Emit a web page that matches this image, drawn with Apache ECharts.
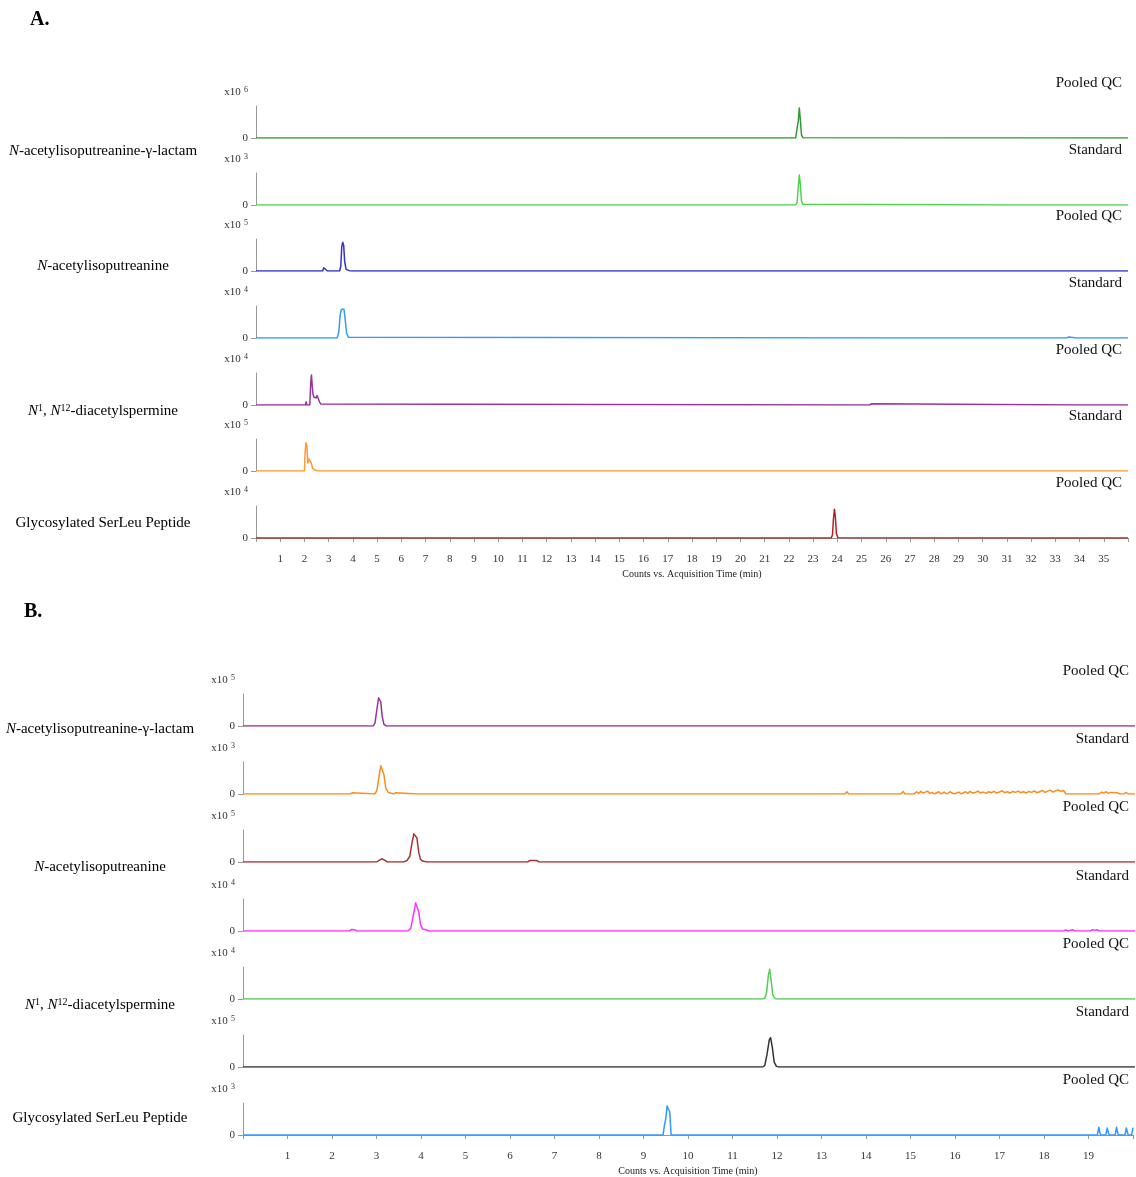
<!DOCTYPE html>
<html>
<head>
<meta charset="utf-8">
<script src="https://cdn.jsdelivr.net/npm/echarts@6/dist/echarts.min.js"></script>
<style>
  html, body { margin: 0; padding: 0; background: #fff; }
  #chart { width: 1136px; height: 1177px; }
</style>
</head>
<body>
<div id="chart"></div>
<script>
// Extracted ion chromatograms: [retention time (min), intensity in units of the trace's x10^n scale]

// Panel A traces
const aLactamQC = [[0,0],[22.28,0],[22.34,0.06],[22.39,0.55],[22.43,0.94],[22.47,0.6],[22.52,0.1],[22.58,0.01],[22.65,0],[36,0]];
const aLactamStd = [[0,0],[2.2,0],[2.24,0.03],[2.28,0],[2.64,0],[2.68,0.03],[2.72,0],[3.43,0],[3.47,0.03],[3.51,0],[4.67,0],[4.71,0.03],[4.75,0],[6.98,0],[7.02,0.03],[7.06,0],[8.38,0],[8.42,0.03],[8.46,0],[22.28,0],[22.34,0.08],[22.39,0.6],[22.43,0.94],[22.47,0.65],[22.52,0.12],[22.58,0.02],[22.65,0],[31.2,0],[31.24,0.05],[31.28,0],[33.86,0],[33.9,0.03],[33.94,0],[34.86,0],[34.9,0.03],[34.94,0],[36,0]];
const aIsoputQC = [[0,0],[2.75,0],[2.8,0.1],[2.83,0.12],[2.88,0.05],[2.95,0],[3.45,0],[3.5,0.15],[3.54,0.75],[3.58,0.9],[3.62,0.8],[3.66,0.3],[3.72,0.05],[3.85,0.01],[3.95,0],[36,0]];
const aIsoputStd = [[0,0],[1.95,0],[2.02,0.05],[2.1,0],[3.35,0],[3.42,0.2],[3.48,0.75],[3.53,0.9],[3.58,0.84],[3.63,0.9],[3.68,0.6],[3.74,0.15],[3.82,0.02],[3.9,0],[26.44,0],[26.48,0.04],[26.52,0],[28.86,0],[28.9,0.03],[28.94,0],[33.46,0],[33.5,0.04],[33.56,0.03],[33.6,0],[33.86,0],[33.9,0.04],[33.94,0],[34.0,0],[34.04,0.03],[34.08,0],[34.36,0],[34.4,0.03],[34.44,0],[36,0]];
const aSpermQC = [[0,0],[2.04,0],[2.07,0.1],[2.1,0],[2.22,0],[2.26,0.7],[2.29,0.94],[2.32,0.6],[2.35,0.35],[2.39,0.25],[2.43,0.3],[2.48,0.22],[2.52,0.3],[2.57,0.2],[2.62,0.1],[2.68,0.03],[2.75,0],[25.06,0],[25.1,0.04],[25.14,0],[25.33,0],[25.37,0.06],[25.42,0.04],[25.46,0],[34.03,0],[34.07,0.04],[34.11,0],[36,0]];
const aSpermStd = [[0,0],[2.0,0],[2.03,0.6],[2.06,0.88],[2.1,0.8],[2.14,0.25],[2.18,0.38],[2.23,0.43],[2.28,0.25],[2.34,0.08],[2.45,0.02],[2.6,0],[36,0]];
const aPeptideQC = [[0,0],[23.75,0],[23.8,0.1],[23.84,0.6],[23.88,0.9],[23.92,0.65],[23.96,0.15],[24.02,0.01],[24.08,0],[33.13,0],[33.17,0.04],[33.21,0],[36,0]];

// Panel B traces
const bLactamQC = [[0,0],[2.92,0],[2.96,0.1],[3.0,0.5],[3.04,0.88],[3.06,0.92],[3.09,0.75],[3.12,0.3],[3.16,0.05],[3.22,0],[20,0]];
const bLactamStd = [[0,0],[2.4,0],[2.46,0.04],[2.5,0],[2.95,0],[3.0,0.1],[3.05,0.55],[3.09,0.88],[3.12,0.92],[3.16,0.6],[3.2,0.2],[3.25,0.06],[3.3,0.03],[3.38,0],[3.43,0.04],[3.46,0],[3.9,0],[3.94,0.05],[3.97,0],[4.0,0.05],[4.03,0],[4.3,0],[4.34,0.04],[4.38,0],[4.6,0],[4.63,0.04],[4.66,0],[4.85,0],[4.88,0.04],[4.91,0],[5.84,0],[5.87,0.03],[5.9,0],[6.33,0],[6.36,0.04],[6.39,0],[10.6,0],[10.63,0.03],[10.66,0],[10.94,0],[10.97,0.03],[11.0,0],[13.5,0],[13.54,0.07],[13.58,0],[13.62,0.06],[13.66,0],[14.0,0],[14.04,0.04],[14.08,0],[14.3,0],[14.33,0.05],[14.36,0],[14.48,0],[14.52,0.04],[14.56,0],[14.75,0],[14.8,0.08],[14.84,0],[15.05,0],[15.1,0.07],[15.15,0.02],[15.2,0.08],[15.25,0.03],[15.3,0.06],[15.35,0.09],[15.4,0.02],[15.45,0.05],[15.5,0],[15.6,0.07],[15.65,0],[15.72,0.06],[15.78,0],[15.85,0.07],[15.9,0.03],[15.95,0],[16.05,0.06],[16.1,0],[16.2,0.07],[16.25,0.02],[16.3,0.08],[16.36,0.03],[16.42,0.05],[16.48,0.09],[16.54,0.03],[16.6,0.06],[16.66,0.02],[16.72,0.07],[16.78,0.04],[16.84,0.08],[16.9,0.03],[16.96,0.06],[17.02,0.1],[17.08,0.04],[17.14,0.07],[17.2,0.03],[17.26,0.08],[17.32,0.05],[17.38,0.09],[17.44,0.04],[17.5,0.07],[17.56,0.03],[17.62,0.08],[17.68,0.05],[17.74,0.1],[17.8,0.04],[17.86,0.07],[17.92,0.11],[17.98,0.05],[18.04,0.09],[18.1,0.12],[18.16,0.06],[18.22,0.1],[18.28,0.13],[18.34,0.08],[18.4,0.11],[18.45,0],[19.2,0],[19.25,0.06],[19.3,0.03],[19.35,0.07],[19.4,0.02],[19.46,0.05],[19.5,0],[19.6,0.04],[19.65,0],[19.75,0],[19.8,0.05],[19.85,0],[20,0]];
const bIsoputQC = [[0,0],[3.0,0],[3.06,0.06],[3.12,0.1],[3.18,0.05],[3.24,0],[3.6,0],[3.68,0.05],[3.74,0.18],[3.79,0.6],[3.83,0.88],[3.87,0.9],[3.9,0.75],[3.94,0.3],[3.98,0.08],[4.04,0.02],[4.12,0],[6.38,0],[6.44,0.05],[6.58,0.05],[6.64,0],[20,0]];
const bIsoputStd = [[0,0],[2.38,0],[2.44,0.05],[2.5,0.04],[2.55,0],[3.7,0],[3.76,0.08],[3.82,0.5],[3.87,0.88],[3.9,0.9],[3.94,0.6],[3.98,0.2],[4.03,0.06],[4.1,0.04],[4.16,0],[18.4,0],[18.45,0.03],[18.5,0],[18.6,0.04],[18.65,0],[19.0,0],[19.05,0.04],[19.1,0.02],[19.15,0.04],[19.2,0],[20,0]];
const bSpermQC = [[0,0],[11.65,0],[11.7,0.03],[11.74,0.2],[11.78,0.75],[11.81,0.93],[11.84,0.6],[11.88,0.12],[11.93,0.01],[11.98,0],[20,0]];
const bSpermStd = [[0,0],[11.65,0],[11.7,0.05],[11.75,0.4],[11.8,0.85],[11.83,0.92],[11.87,0.6],[11.91,0.15],[11.96,0.02],[12.02,0],[20,0]];
const bPeptideQC = [[0,0],[9.44,0],[9.47,0.3],[9.5,0.5],[9.53,0.91],[9.56,0.8],[9.59,0.73],[9.62,0],[19.2,0],[19.23,0.24],[19.27,0],[19.39,0],[19.42,0.22],[19.46,0],[19.6,0],[19.63,0.24],[19.67,0],[19.82,0],[19.85,0.22],[19.89,0],[19.97,0],[20,0.23]];

// Labels
const compoundNames = [
  '{i|N}{n|-acetylisoputreanine-γ-lactam}',
  '{i|N}{n|-acetylisoputreanine}',
  '{i|N}{s|1}{n|, }{i|N}{s|12}{n|-diacetylspermine}',
  '{n|Glycosylated SerLeu Peptide}'
];
const sampleTags = ['Pooled QC', 'Standard', 'Pooled QC', 'Standard', 'Pooled QC', 'Standard', 'Pooled QC'];
const exponentsA = [6, 3, 5, 4, 4, 5, 4];
const exponentsB = [5, 3, 5, 4, 4, 5, 3];
const colorsA = ['#339933', '#4fd34f', '#3333cc', '#3399ff', '#993399', '#ff9933', '#b22222'];
const colorsB = ['#993399', '#ff8c1a', '#a83232', '#ff33ff', '#55cc55', '#333333', '#3399ff'];
const xTitle = 'Counts vs. Acquisition Time (min)';

// Layout of the two stacked panels
const FONT = '"Liberation Serif", "Times New Roman", serif';
const panels = [
  { name: 'A.', traces: [aLactamQC, aLactamStd, aIsoputQC, aIsoputStd, aSpermQC, aSpermStd, aPeptideQC],
    exps: exponentsA, colors: colorsA, xMax: 36, left: 256, right: 8,
    zero0: 138, step: 66.67, plotH: 32, tagX: 1122, nameX: 103,
    nameY: [151, 266, 411, 523], titleXY: [30, 20] },
  { name: 'B.', traces: [bLactamQC, bLactamStd, bIsoputQC, bIsoputStd, bSpermQC, bSpermStd, bPeptideQC],
    exps: exponentsB, colors: colorsB, xMax: 20, left: 243, right: 1,
    zero0: 726, step: 68.17, plotH: 32, tagX: 1129, nameX: 100,
    nameY: [729, 867, 1005, 1118], titleXY: [24, 612] }
];

const grids = [], xAxes = [], yAxes = [], series = [], graphics = [];
const richName = {
  n: { fontFamily: FONT, fontSize: 15, color: '#111' },
  i: { fontFamily: FONT, fontSize: 15, color: '#111', fontStyle: 'italic' },
  s: { fontFamily: FONT, fontSize: 10, color: '#111', padding: [0, 0, 6, 0] }
};

panels.forEach(p => {
  graphics.push({ type: 'text', x: p.titleXY[0], y: p.titleXY[1],
    style: { text: p.name, font: 'bold 20px ' + FONT, fill: '#000', textVerticalAlign: 'middle' } });
  compoundNames.forEach((nm, k) => {
    graphics.push({ type: 'text', x: p.nameX, y: p.nameY[k],
      style: { text: nm, rich: richName, textAlign: 'center', textVerticalAlign: 'middle' } });
  });
  p.traces.forEach((data, j) => {
    const idx = grids.length;
    const zero = Math.round(p.zero0 + j * p.step);
    const last = j === p.traces.length - 1;
    grids.push({ left: p.left, right: p.right, top: zero - p.plotH, height: p.plotH });
    xAxes.push({
      gridIndex: idx, type: 'value', min: 0, max: p.xMax, interval: 1, show: last, offset: 8,
      axisLine: { show: true, lineStyle: { color: '#999', width: 1 } },
      axisTick: { show: true, length: 4, lineStyle: { color: '#999' } },
      axisLabel: { fontFamily: FONT, fontSize: 11, color: '#333', margin: 8,
        formatter: v => (v > 0 && v < p.xMax) ? String(v) : '' },
      splitLine: { show: false },
      name: xTitle, nameLocation: 'middle', nameGap: 23,
      nameTextStyle: { fontFamily: FONT, fontSize: 10, color: '#222' }
    });
    yAxes.push({
      gridIndex: idx, type: 'value', min: 0, max: 1, interval: 1,
      axisLine: { show: true, lineStyle: { color: '#999', width: 1 } },
      axisTick: { show: true, length: 5, customValues: [0], lineStyle: { color: '#999' } },
      axisLabel: { customValues: [0], fontFamily: FONT, fontSize: 11, color: '#333', margin: 8,
        formatter: v => v === 0 ? '0' : '' },
      splitLine: { show: false },
      name: '{a|x10} {b|' + p.exps[j] + '}', nameLocation: 'end', nameGap: 7,
      nameTextStyle: { align: 'right', padding: [0, 8, 0, 0],
        rich: { a: { fontFamily: FONT, fontSize: 11, color: '#333' },
                b: { fontFamily: FONT, fontSize: 8, color: '#333', padding: [0, 0, 5, 0] } } }
    });
    series.push({
      type: 'line', xAxisIndex: idx, yAxisIndex: idx, data: data,
      showSymbol: false, symbol: 'none', silent: true, smooth: false,
      lineStyle: { color: p.colors[j], width: 1.5, join: 'round' }, itemStyle: { color: p.colors[j] }
    });
    graphics.push({ type: 'text', x: p.tagX, y: zero - 55,
      style: { text: sampleTags[j], font: '15px ' + FONT, fill: '#111', textAlign: 'right', textVerticalAlign: 'middle' } });
  });
});

const chart = echarts.init(document.getElementById('chart'), null, { renderer: 'canvas' });
chart.setOption({
  backgroundColor: '#fff',
  animation: false,
  grid: grids,
  xAxis: xAxes,
  yAxis: yAxes,
  series: series,
  graphic: graphics
});
</script>
</body>
</html>
